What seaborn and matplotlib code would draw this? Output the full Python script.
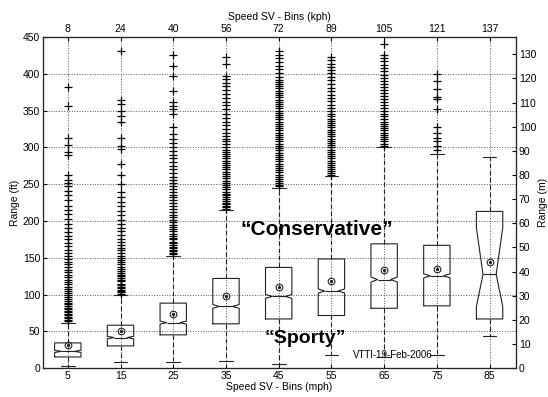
import pandas as pd
import seaborn as sns
import matplotlib.pyplot as plt

# Hız kutuları (mph) ve üst eksen için km/h karşılıkları
mph = [5, 15, 25, 35, 45, 55, 65, 75, 85]
kph = [8, 24, 40, 56, 72, 89, 105, 121, 137]

# Kutu istatistikleri (ft)
q1 = [15.4, 30.4, 45.4, 60.4, 67, 71.7, 81.5, 84.8, 67]
med = [23, 41.7, 62, 84, 97.6, 105, 120.5, 125.5, 127.5]
q3 = [34.5, 58.5, 88.5, 122, 137, 148.5, 169, 167, 213]
whislo = [3.5, 8.6, 8, 10.4, 6.3, 18, 16, 18, 43.6]
whishi = [62, 100, 153, 215, 245, 261, 300, 290.6, 287.5]
means = [31, 50, 74.4, 98.5, 111, 118.5, 133.3, 135.3, 144.4]
notch_lo = [21.5, 40, 60, 81.5, 95, 102.3, 117, 122.8, 84]
notch_hi = [24.5, 43.4, 64, 86.5, 100.2, 107.7, 124, 128.2, 191]

# Aykırı değerler (ft)
fl_5 = [64, 66, 68, 70, 72, 74, 76, 78, 80, 82, 84, 87, 89, 92, 94, 97, 100, 102,
        105, 108, 111, 114, 117, 120, 124, 127, 131, 134, 138, 141, 145, 149, 153,
        157, 161, 166, 170, 175, 180, 185, 190, 196, 203, 209, 215, 221, 228, 235,
        241, 247, 251, 256, 263, 290, 294, 303, 313, 356, 382]
fl_15 = [101, 103, 105, 107, 109, 111, 113, 115, 118, 120, 122, 125, 127, 130, 132,
         135, 138, 141, 144, 147, 150, 153, 156, 160, 164, 168, 172, 176, 181, 186,
         191, 196, 202, 208, 214, 220, 226, 233, 240, 250, 263, 278, 298, 302, 313,
         334, 343, 350, 359, 364, 431]
fl_25 = [155, 157, 159, 161, 163, 165, 168, 170, 172, 175, 177, 180, 183, 186, 189,
         192, 195, 198, 201, 205, 208, 212, 216, 220, 224, 228, 232, 236, 240, 244,
         248, 252, 256, 260, 265, 270, 275, 280, 285, 290, 295, 300, 306, 311, 318,
         327, 345, 352, 356, 361, 377, 397, 411, 425]
fl_35 = [217, 219, 221, 223, 225, 227, 230, 232, 235, 237, 240, 243, 246, 249, 252,
         255, 258, 261, 264, 267, 270, 273, 276, 279, 282, 285, 288, 291, 294, 297,
         300, 304, 308, 312, 316, 320, 325, 330, 335, 340, 346, 352, 357, 362, 367,
         372, 378, 383, 388, 393, 397, 413, 423]
fl_45 = [247, 249, 252, 254, 257, 260, 263, 266, 269, 272, 275, 278, 281, 284, 287,
         290, 293, 296, 299, 302, 305, 308, 311, 314, 317, 320, 323, 326, 329, 332,
         335, 338, 341, 344, 347, 350, 353, 356, 359, 362, 365, 368, 371, 374, 377,
         380, 383, 386, 389, 392, 395, 401, 406, 410, 416, 421, 426, 431]
fl_55 = [263, 265, 268, 270, 273, 276, 279, 282, 285, 288, 291, 294, 297, 300, 303,
         306, 309, 312, 315, 318, 321, 324, 327, 330, 333, 336, 339, 342, 345, 349,
         353, 358, 363, 367, 371, 376, 381, 386, 391, 396, 401, 405, 409, 413, 418, 423]
fl_65 = [302, 305, 308, 311, 314, 317, 320, 323, 326, 329, 332, 335, 338, 342, 346,
         350, 354, 358, 362, 366, 370, 374, 378, 382, 386, 390, 394, 398, 404, 408,
         412, 417, 421, 425, 440]
fl_75 = [297, 302, 309, 313, 320, 327, 352, 366, 368, 379, 390, 400]
fl_85 = []
fliers = [fl_5, fl_15, fl_25, fl_35, fl_45, fl_55, fl_65, fl_75, fl_85]

sns.set_style("white")
plt.rcParams['font.family'] = ['Liberation Sans', 'DejaVu Sans']
plt.rcParams['font.size'] = 7.5
plt.rcParams['text.color'] = 'black'
plt.rcParams['axes.labelcolor'] = 'black'
plt.rcParams['xtick.color'] = 'black'
plt.rcParams['ytick.color'] = 'black'

fig = plt.figure(figsize=(5.48, 3.97), dpi=100)
ax = fig.add_axes([0.0785, 0.0723, 0.863, 0.8347])

stats = []
for i in range(len(mph)):
    stats.append(dict(med=med[i], q1=q1[i], q3=q3[i], whislo=whislo[i],
                      whishi=whishi[i], mean=means[i], cilo=notch_lo[i],
                      cihi=notch_hi[i], fliers=[]))

line = dict(color='#222222', linewidth=0.8)
ax.bxp(stats, positions=mph, widths=5, capwidths=2.6, shownotches=True,
       showmeans=True, showfliers=False, manage_ticks=False,
       boxprops=line, medianprops=line, capprops=line,
       whiskerprops=dict(color='#222222', linewidth=0.8, linestyle=(0, (4, 2.5))),
       meanprops=dict(marker='o', markersize=4.8, markerfacecolor='none',
                      markeredgecolor='#222222', markeredgewidth=0.8))
ax.plot(mph, means, linestyle='none', marker='o', markersize=1.4, color='#222222')

# Aykırı değerler seaborn ile
df = pd.DataFrame({
    'mph': [m for m, f in zip(mph, fliers) for _ in f],
    'ft': [v for f in fliers for v in f],
})
sns.scatterplot(data=df, x='mph', y='ft', marker='+', color='black', s=30,
                linewidth=0.9, legend=False, ax=ax, zorder=3)

ax.set_xlim(0.3, 90)
ax.set_ylim(0, 450)
ax.set_xticks(mph)
ax.set_yticks(range(0, 451, 50))
ax.grid(True, linestyle=':', color='#555555', linewidth=0.7)
ax.set_axisbelow(True)
ax.set_xlabel('Speed SV - Bins (mph)', labelpad=1)
ax.set_ylabel('Range (ft)', labelpad=2)
ax.tick_params(direction='in', length=3, pad=2, top=False, right=False,
               left=True, bottom=True, labelsize=7.5)
for s in ax.spines.values():
    s.set_color('black')
    s.set_linewidth(0.8)

# Sağ eksen (m)
ax2 = ax.twinx()
ax2.set_ylim(0, 450 / 3.28084)
ax2.set_yticks(range(0, 131, 10))
ax2.set_ylabel('Range (m)', labelpad=1)
ax2.tick_params(direction='in', length=3, pad=2, right=True, labelsize=7.5)

# Üst eksen (kph)
ax3 = ax.twiny()
ax3.set_xlim(ax.get_xlim())
ax3.set_xticks(mph)
ax3.set_xticklabels(kph)
ax3.set_xlabel('Speed SV - Bins (kph)', labelpad=3)
ax3.tick_params(direction='in', length=3, pad=2, top=True, labelsize=7.5)

ax.text(37.7, 188, '\u201cConservative\u201d', fontsize=15, fontweight='bold',
        ha='left', va='center')
ax.text(42.4, 41, '\u201cSporty\u201d', fontsize=14, fontweight='bold',
        ha='left', va='center')
ax.text(59, 18, 'VTTI-19-Feb-2006', fontsize=7, ha='left', va='center')

plt.savefig('out.png', dpi=100)
